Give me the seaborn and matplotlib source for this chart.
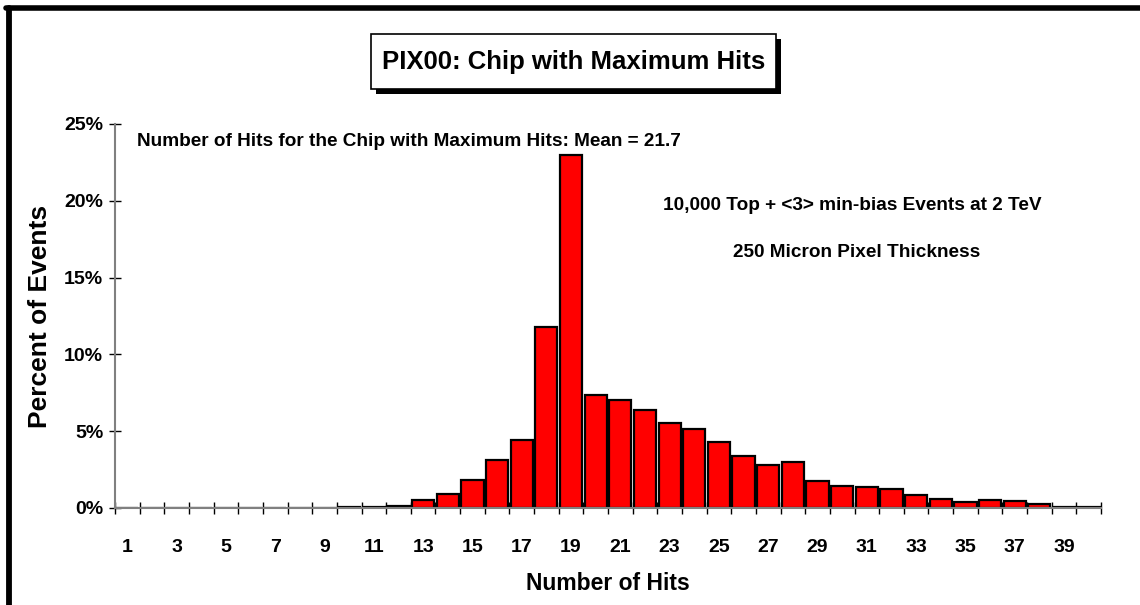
import seaborn as sns
import matplotlib.pyplot as plt
from matplotlib.patches import Rectangle
from matplotlib.lines import Line2D
import pandas as pd

sns.set_style("white")
plt.rcParams['font.family'] = ['Liberation Sans', 'DejaVu Sans']
plt.rcParams['font.weight'] = 'bold'
plt.rcParams['text.color'] = 'black'
plt.rcParams['axes.labelcolor'] = 'black'
plt.rcParams['xtick.color'] = 'black'
plt.rcParams['ytick.color'] = 'black'

# number of hits for the chip with maximum hits (1..40) and percent of events
hits = [str(i) for i in range(1, 41)]
percent = [0.0, 0.0, 0.03, 0.0, 0.0, 0.0, 0.03, 0.03, 0.03, 0.04,
           0.05, 0.12, 0.5, 0.89, 1.8, 3.15, 4.41, 11.8, 23.0, 7.35,
           7.02, 6.41, 5.54, 5.17, 4.3, 3.37, 2.83, 2.98, 1.79, 1.41,
           1.37, 1.26, 0.87, 0.58, 0.39, 0.5, 0.45, 0.27, 0.08, 0.08]
yticks = [0, 5, 10, 15, 20, 25]

df = pd.DataFrame({'hits': hits, 'percent': percent})

fig = plt.figure(figsize=(11.4, 6.05), dpi=100)
ax = fig.add_axes([115/1140, 1-508/605, (1101-115)/1140, (508-124)/605])

sns.barplot(data=df, x='hits', y='percent', color='red', saturation=1,
            edgecolor='black', linewidth=1.6, width=0.9, ax=ax)

ax.set_xlim(-0.5, 39.5)
ax.set_ylim(0, 25)
for s in ['top', 'right']:
    ax.spines[s].set_visible(False)
for s in ['left', 'bottom']:
    ax.spines[s].set_color('#808080')
    ax.spines[s].set_linewidth(1.5)

ax.set_yticks(yticks)
ax.set_yticklabels([f'{v}%' for v in yticks])
ax.tick_params(axis='y', left=True, direction='inout', length=9, width=1,
               labelsize=14, pad=4)

# labels on odd categories, tick marks on category boundaries
ax.set_xticks(range(0, 40, 2))
ax.set_xticklabels(hits[::2])
ax.set_xticks([i - 0.5 for i in range(41)], minor=True)
ax.tick_params(axis='x', which='major', bottom=True, length=0, labelsize=14, pad=22)
ax.tick_params(axis='x', which='minor', bottom=True, direction='inout', length=9, width=1)

ax.set_xlabel('Number of Hits', fontsize=16.5, fontweight='bold', labelpad=12)
ax.set_ylabel('Percent of Events', fontsize=19, fontweight='bold', labelpad=9)

ax.text(137/1140, 1-141/605, 'Number of Hits for the Chip with Maximum Hits: Mean = 21.7',
        transform=fig.transFigure, fontsize=13.7, fontweight='bold', va='center', ha='left')
ax.text(852/1140, 1-205/605, '10,000 Top + <3> min-bias Events at 2 TeV',
        transform=fig.transFigure, fontsize=13.7, fontweight='bold', va='center', ha='center')
ax.text(857/1140, 1-252/605, '250 Micron Pixel Thickness',
        transform=fig.transFigure, fontsize=13.7, fontweight='bold', va='center', ha='center')

# title box with shadow
bx, by, bw, bh = 371, 34, 405, 55
fig.patches.append(Rectangle(((bx+5)/1140, 1-(by+bh+5)/605), bw/1140, bh/605,
                             transform=fig.transFigure, facecolor='black', edgecolor='none'))
fig.patches.append(Rectangle((bx/1140, 1-(by+bh)/605), bw/1140, bh/605,
                             transform=fig.transFigure, facecolor='white', edgecolor='black', lw=1.2))
fig.text((bx+bw/2)/1140, 1-(by+bh/2)/605, 'PIX00: Chip with Maximum Hits',
         fontsize=18.5, fontweight='bold', ha='center', va='center')

# outer frame (top and left edges)
fig.lines.append(Line2D([9/1140, 9/1140], [0, 1-7.5/605], transform=fig.transFigure,
                        color='black', lw=4.2))
fig.lines.append(Line2D([6/1140, 1], [1-7.5/605, 1-7.5/605], transform=fig.transFigure,
                        color='black', lw=4.0))

fig.savefig('out.png', dpi=100)
